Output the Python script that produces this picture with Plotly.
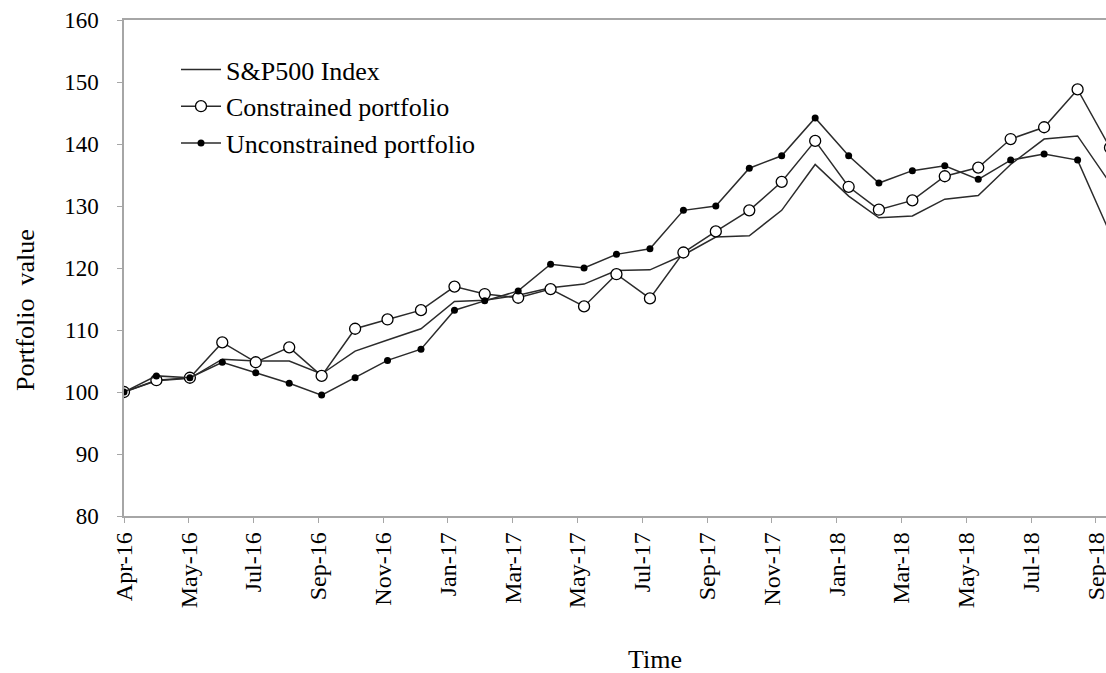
import plotly.graph_objects as go
import pandas as pd

dates = pd.date_range("2016-04-01", periods=31, freq="MS").strftime("%Y-%m-%d").tolist()

sp500 = [100, 101.8, 102.2, 105.3, 105.0, 105.0, 102.9, 106.6, 108.4, 110.2,
         114.6, 114.8, 115.6, 116.8, 117.4, 119.6, 119.7, 122.1, 125.0, 125.2,
         129.3, 136.7, 131.6, 128.1, 128.4, 131.1, 131.7, 136.7, 140.8, 141.3, 133.7]
constrained = [100, 101.9, 102.3, 108.0, 104.8, 107.2, 102.6, 110.2, 111.7, 113.2,
               117.0, 115.8, 115.2, 116.6, 113.8, 119.0, 115.1, 122.5, 125.9, 129.3,
               133.9, 140.5, 133.1, 129.4, 130.9, 134.8, 136.2, 140.8, 142.7, 148.8, 139.4]
unconstrained = [100, 102.6, 102.3, 104.8, 103.1, 101.4, 99.5, 102.3, 105.1, 106.9,
                 113.2, 114.7, 116.3, 120.6, 120.0, 122.2, 123.1, 129.3, 130.0, 136.1,
                 138.1, 144.2, 138.1, 133.7, 135.7, 136.5, 134.3, 137.4, 138.4, 137.4, 125.6]

series_names = ["S&P500 Index", "Constrained portfolio", "Unconstrained portfolio"]

FONT = "Liberation Serif, Times New Roman, serif"
LINE = "#2b2b2b"
AXIS = "#a6a6a6"

# the original chart runs slightly past the right edge of the 1106px picture
W, H = 1110, 673
PL, PR, PT, PB = 124, 1110, 20, 516
PW, PH = PR - PL, PB - PT

fig = go.Figure()
fig.add_trace(go.Scatter(x=dates, y=sp500, name=series_names[0], mode="lines",
                         line=dict(color=LINE, width=1.5)))
fig.add_trace(go.Scatter(x=dates, y=constrained, name=series_names[1], mode="lines+markers",
                         line=dict(color=LINE, width=1.5),
                         marker=dict(symbol="circle", size=11, color="white",
                                     line=dict(color="black", width=1.3))))
fig.add_trace(go.Scatter(x=dates, y=unconstrained, name=series_names[2], mode="lines+markers",
                         line=dict(color=LINE, width=1.5),
                         marker=dict(symbol="circle", size=7, color="black",
                                     line=dict(color="black", width=0))))

fig.update_layout(
    width=W, height=H,
    margin=dict(l=PL, r=W - PR, t=PT, b=H - PB, autoexpand=False),
    paper_bgcolor="white", plot_bgcolor="white",
    font=dict(family=FONT, size=23, color="black"),
    showlegend=True,
    legend=dict(x=(176 - PL) / PW, y=1 - (46 - PT) / PH, xanchor="left", yanchor="top",
                bgcolor="rgba(0,0,0,0)", font=dict(family=FONT, size=26, color="black"),
                tracegroupgap=0, itemwidth=40),
    xaxis=dict(
        type="date", automargin=False,
        range=["2016-04-01", "2018-10-01"],
        tick0="2016-04-01", dtick=60 * 86400000, tickformat="%b-%y",
        tickangle=-90, ticks="outside", ticklen=5, tickcolor=AXIS,
        showline=True, linecolor=AXIS, linewidth=1.5, mirror=True,
        showgrid=False, zeroline=False,
        tickfont=dict(family=FONT, size=24, color="black"),
        ticklabelstandoff=0, ticklabeloverflow="allow",
    ),
    yaxis=dict(
        range=[80, 160], tick0=80, dtick=10, automargin=False,
        ticks="outside", ticklen=5, tickcolor=AXIS,
        showline=True, linecolor=AXIS, linewidth=1.5,
        showgrid=False, zeroline=False,
        tickfont=dict(family=FONT, size=23, color="black"),
        ticklabelstandoff=14,
    ),
    annotations=[
        dict(text="Portfolio\u00a0 value", textangle=-90, xref="paper", yref="paper",
             x=(25 - PL) / PW, y=(PB - 310) / PH, showarrow=False,
             font=dict(family=FONT, size=26, color="black"), xanchor="center", yanchor="middle"),
        dict(text="Time", xref="paper", yref="paper",
             x=(655 - PL) / PW, y=(PB - 659) / PH, showarrow=False,
             font=dict(family=FONT, size=26, color="black"), xanchor="center", yanchor="middle"),
    ],
)

fig.write_html("out.html", config={"displayModeBar": False},
               post_script="document.body.style.margin='0';document.body.style.overflow='hidden';")
